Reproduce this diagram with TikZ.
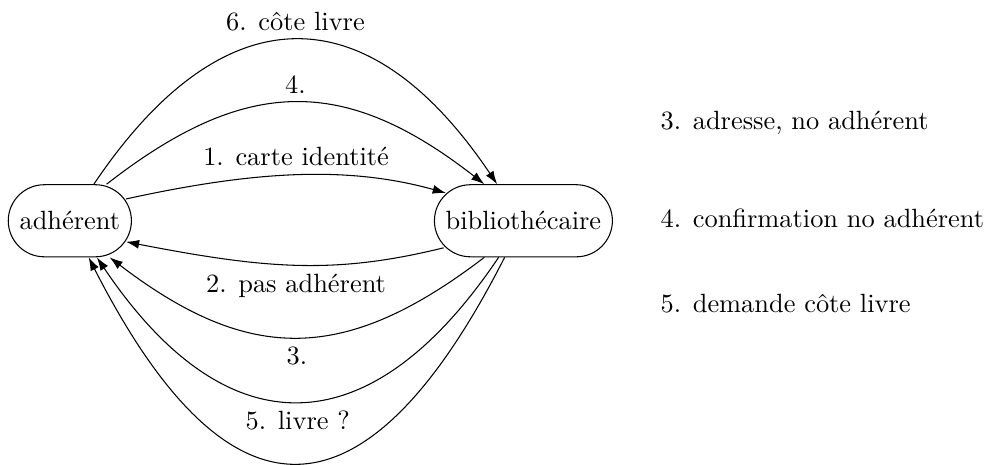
\documentclass[tikz,border=0pt]{standalone}
\usepackage{tikz}
\usetikzlibrary{positioning,arrows.meta,calc}

\begin{document}
\begin{tikzpicture}[
  acteur/.style={rectangle, rounded corners=0.48cm, draw=black, inner sep=0pt,
             align=center, minimum height=0.96cm},
  legende/.style={anchor=base west, inner sep=0pt},
  flux/.style={-{Latex[length=5pt,width=3.4pt]}, black},
]
\useasboundingbox (-0.93,2.94) rectangle (12.36,-3.25);

\node[acteur, minimum width=1.64cm] (adh) at (0,0)    {adhérent};
\node[acteur, minimum width=2.37cm] (bib) at (6.04,0) {bibliothécaire};

\node[legende] (l3) at (7.86,1.21)   {3. adresse, no adhérent};
\node[legende] (l4) at (7.86,-0.093) {4. confirmation no adhérent};
\node[legende] (l5) at (7.86,-1.225) {5. demande côte livre};

\draw[flux] ([shift={(-0.08,0.29)}]adh.east) .. controls +(1.69,0.37) and +(-1.33,0.37)
  .. node[midway, above] {1. carte identité} ([shift={(0.16,0.37)}]bib.west);
\draw[flux] ([xshift=0.49cm]adh.north) .. controls +(1.86,1.45) and +(-1.86,1.45)
  .. node[midway, above] {4.} ([xshift=-0.52cm]bib.north);
\draw[flux] ([xshift=0.32cm]adh.north) .. controls +(1.72,2.56) and +(-1.72,2.56)
  .. node[midway, above] {6. côte livre} ([xshift=-0.35cm]bib.north);

\draw[flux] ([shift={(0.13,-0.36)}]bib.west) .. controls +(-1.46,-0.36) and +(1.86,-0.36)
  .. node[midway, below] {2. pas adhérent} ([shift={(-0.08,-0.28)}]adh.east);
\draw[flux] ([xshift=-0.52cm]bib.south) .. controls +(-1.86,-1.42) and +(1.86,-1.42)
  .. node[midway, below] {3.} ([xshift=0.53cm]adh.south);
\draw[flux] ([xshift=-0.33cm]bib.south) .. controls +(-1.72,-2.56) and +(1.72,-2.56)
  .. node[midway, below] {5. livre ?} ([xshift=0.36cm]adh.south);
\draw[flux] ([xshift=-0.25cm]bib.south) .. controls +(-1.86,-3.65) and +(1.86,-3.65)
  .. ([xshift=0.25cm]adh.south);
\end{tikzpicture}
\end{document}
